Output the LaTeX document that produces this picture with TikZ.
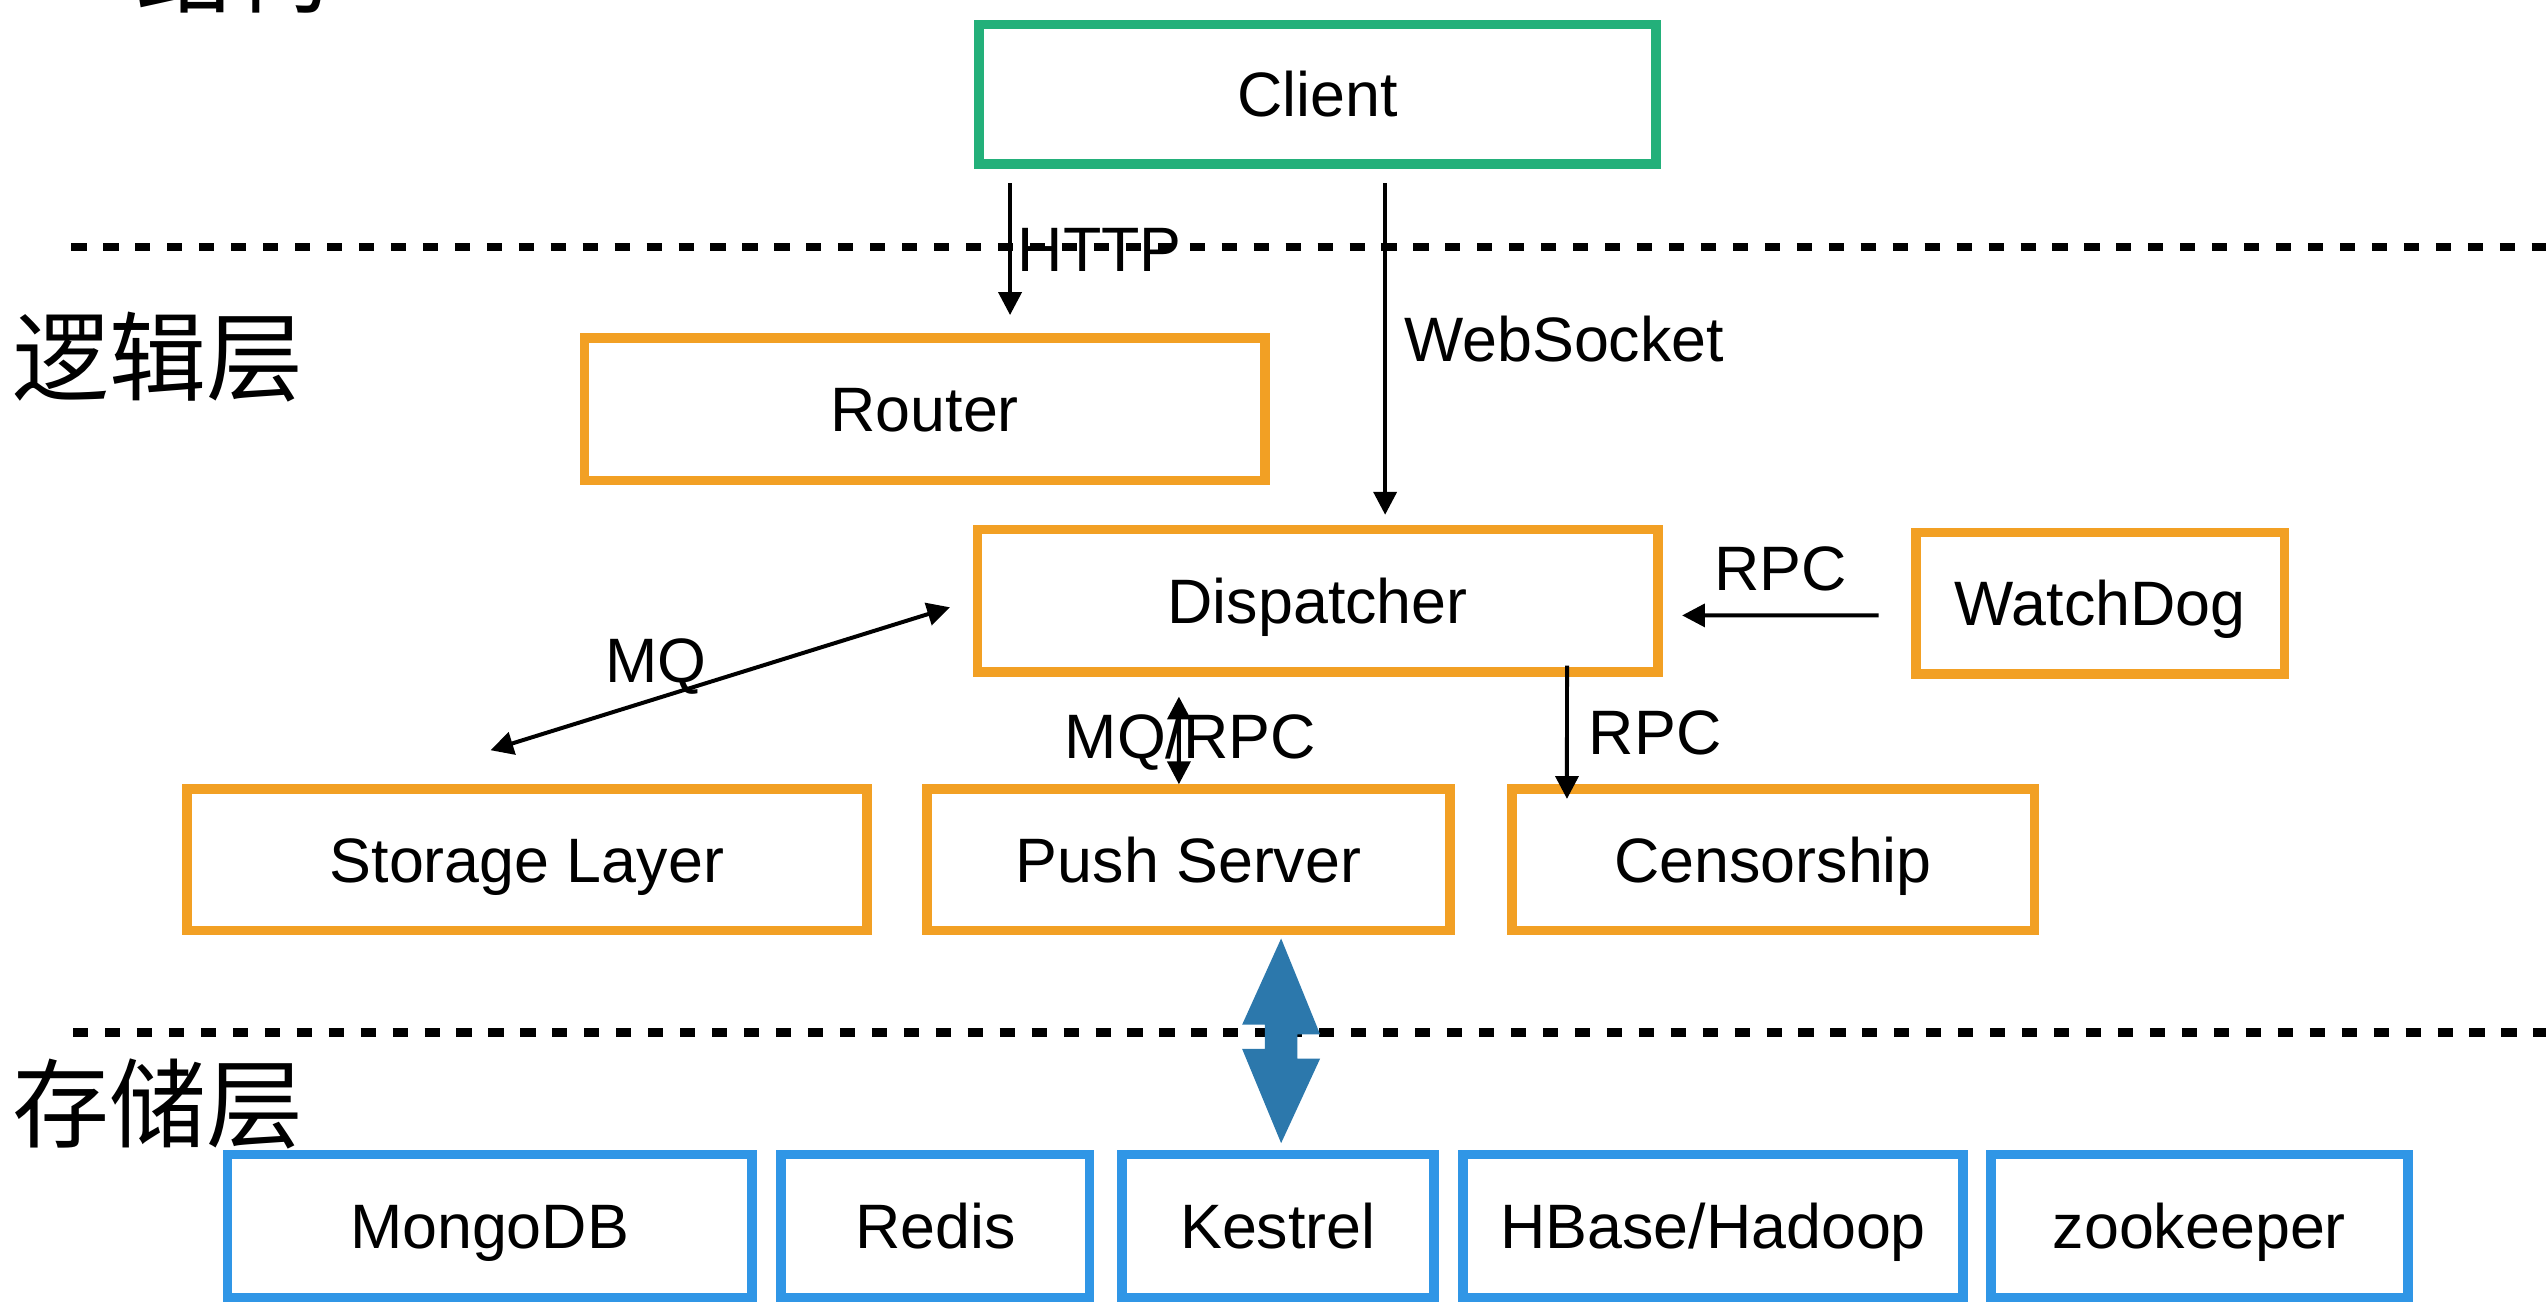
\documentclass[tikz,border=0pt]{standalone}
\usepackage{fontspec}
\setmainfont{Liberation Sans}
\newfontfamily\cjk{Noto Sans CJK SC}
\usetikzlibrary{arrows.meta,calc}
\definecolor{cgreen}{RGB}{35,176,122}
\definecolor{corange}{RGB}{242,160,36}
\definecolor{cblue}{RGB}{48,150,230}
\definecolor{bigblue}{RGB}{44,120,172}
\begin{document}
\begin{tikzpicture}[x=0.02cm,y=-0.02cm,
  box/.style={draw, line width=3.4pt, inner sep=0pt, font=\fontsize{22}{26}\selectfont,
    text height=15.75pt, text depth=0pt},
  gbox/.style={box, draw=cgreen},
  obox/.style={box, draw=corange},
  bbox/.style={box, draw=cblue, minimum height=1.76cm},
  lbl/.style={font=\fontsize{22}{26}\selectfont, text height=15.75pt, text depth=0pt},
  layer/.style={font=\cjk\fontsize{34}{40}\selectfont, inner sep=0pt},
  dline/.style={line width=3pt, dash pattern=on 5.3pt off 5.9pt},
  arr/.style={line width=1.4pt, -{Triangle[length=8pt,width=8pt]}},
  dbl/.style={line width=1.4pt, {Triangle[length=8pt,width=8pt]}-{Triangle[length=8pt,width=8pt]}}
]
\useasboundingbox (0,0) rectangle (1568,802);
\clip (0,0) rectangle (1568,802);

% clipped title
\node[layer, anchor=base west] (title) at (83.5,3.2) {结构};

% layer separators
\draw[dline] (44,152) -- (1568,152);
\draw[dline] (45,636) -- (1568,636);

% layer labels
\node[layer] (logic) at (97,220) {逻辑层};
\node[layer] (store) at (97,680) {存储层};

% boxes
\node[gbox, minimum width=8.34cm, minimum height=1.72cm] (client) at (811.5,58) {Client};
\node[obox, minimum width=8.38cm, minimum height=1.76cm] (router) at (569.5,252) {Router};
\node[obox, minimum width=8.38cm, minimum height=1.76cm] (dispatcher) at (811.5,370) {Dispatcher};
\node[obox, minimum width=4.54cm, minimum height=1.74cm] (watchdog) at (1293.5,371.5) {WatchDog};
\node[obox, minimum width=8.38cm, minimum height=1.74cm] (storage) at (324.5,529.5) {Storage Layer};
\node[obox, minimum width=6.44cm, minimum height=1.74cm] (push) at (732,529.5) {Push Server};
\node[obox, minimum width=6.44cm, minimum height=1.74cm] (censor) at (1092,529.5) {Censorship};

\node[bbox, minimum width=6.46cm] (mongo) at (301.5,755) {MongoDB};
\node[bbox, minimum width=3.80cm] (redis) at (576,755) {Redis};
\node[bbox, minimum width=3.84cm] (kestrel) at (787,755) {Kestrel};
\node[bbox, minimum width=6.16cm] (hbase) at (1055,755) {HBase/Hadoop};
\node[bbox, minimum width=5.14cm] (zoo) at (1354.5,755) {zookeeper};

% connectors
\draw[arr] ([shift={(22,9)}]client.south west) -- node[lbl, midway, right, inner sep=2pt] {HTTP} ([shift={(265,-11)}]router.north west);
\draw[arr] ([shift={(253,9)}]client.south west) -- node[lbl, pos=0.47, right, inner sep=6pt] {WebSocket} ([shift={(254,-6)}]dispatcher.north west);
\draw[arr] ([shift={(-20,7.5)}]watchdog.west) -- node[lbl, midway, above, inner sep=8pt] {RPC} ([shift={(12,9)}]dispatcher.east);
\draw[arr] ([shift={(366,-7)}]dispatcher.south west) -- node[lbl, midway, right, inner sep=7pt] {RPC} ([shift={(37,9)}]censor.north west);
\draw[dbl] ([shift={(190,-21)}]storage.north west) -- node[lbl, pos=0.36, anchor=base, yshift=0.2cm, inner sep=0pt] {MQ} ([shift={(-14,4)}]dispatcher.west);
\draw[dbl] ([shift={(127,12)}]dispatcher.south west) -- node[lbl, midway, anchor=base, xshift=0.14cm, yshift=-0.22cm, inner sep=0pt] {MQ/RPC} ([shift={(158,0)}]push.north west);

% big double arrow
\coordinate (bt) at ([shift={(57,2)}]push.south);
\coordinate (bb) at ([shift={(2,-4)}]kestrel.north);
\fill[bigblue] (bt) -- ++(24,59) -- ++(-14,0) -- ++(0,15) -- ++(14,0) -- (bb)
  -- ++(-24,-58) -- ++(14,0) -- ++(0,-15) -- ++(-14,0) -- cycle;
\end{tikzpicture}
\end{document}
